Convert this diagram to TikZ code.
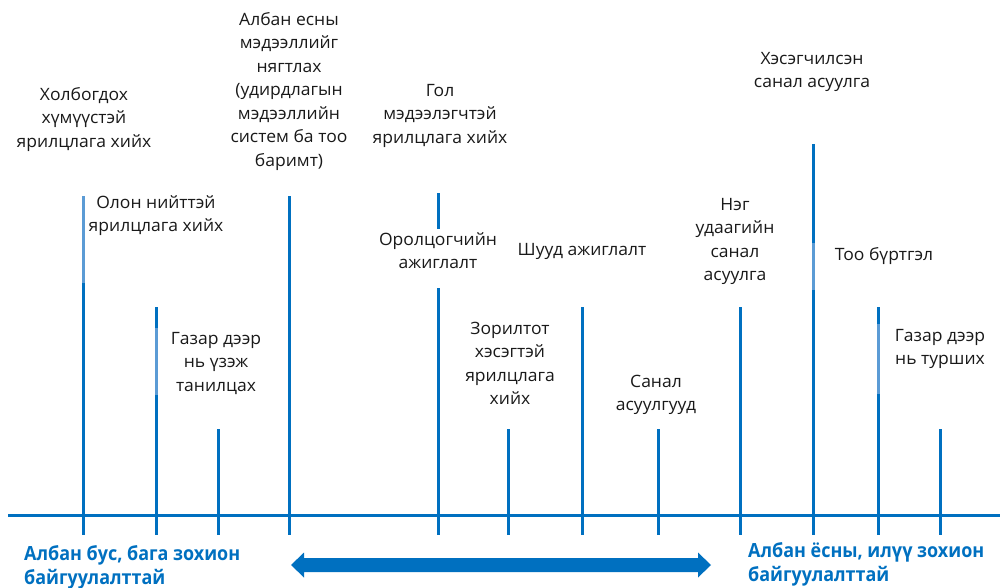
\documentclass[tikz,border=0pt]{standalone}
\usepackage{fontspec}
\setmainfont{Open Sans}
\newfontfamily\lblfont[FakeStretch=1.03]{Open Sans}
\newfontfamily\sidefont[FakeStretch=0.92]{Open Sans}
\usetikzlibrary{calc}
\definecolor{mainblue}{RGB}{0,112,192}
\definecolor{lightblue}{RGB}{91,155,213}
\definecolor{txt}{RGB}{25,25,25}
\begin{document}
\begin{tikzpicture}[x=1pt,y=-1pt,
  tick/.style={draw=mainblue,line width=3pt},
  lite/.style={draw=lightblue,line width=3pt},
  lbl/.style={font=\lblfont\fontsize{17}{23.5}\selectfont,align=center,inner sep=0pt,anchor=north,text=txt},
  side/.style={font=\sidefont\bfseries\fontsize{19.5}{24.5}\selectfont,align=left,inner sep=0pt,anchor=north west,text=mainblue}]
\useasboundingbox (0,0) rectangle (1000,588);
% axis
\coordinate (axL) at (8,515);
\coordinate (axR) at (1000,515);
\draw[tick] (axL) -- (axR);
% ticks
\foreach \n/\x/\t in {1/83/196,2/156/307,3/218/429,4/289/196,6/508/429,7/582/307,8/658/429,9/740/307,10/813/144,11/878/307,12/940/429}{
  \coordinate (t\n) at (\x,\t);
  \coordinate (b\n) at (\x,535);
  \draw[tick] (t\n) -- (b\n);
}
\coordinate (t5a) at (438,193);
\coordinate (b5a) at (438,229);
\coordinate (t5) at (438,288);
\coordinate (b5) at (438,535);
\draw[tick] (t5a) -- (b5a);
\draw[tick] (t5) -- (b5);
% lighter segments
\draw[lite] (83,196) -- (83,283);
\draw[lite] (156,328) -- (156,395);
\draw[lite] (813,243) -- (813,290);
\draw[lite] (878,324) -- (878,394);
% labels
\node[lbl] (A) at (84,83.5) {\strut Холбогдох\\хүмүүстэй\\ярилцлага хийх};
\node[lbl] (B) at (156,191.5) {\strut Олон нийттэй\\ярилцлага хийх};
\node[lbl] (C) at (216,327.5) {\strut Газар дээр\\нь үзэж\\танилцах};
\node[lbl] (D) at (289,8.5) {\strut Албан есны\\мэдээллийг\\нягтлах\\(удирдлагын\\мэдээллийн\\систем ба тоо\\баримт)};
\node[lbl] (E) at (440,79.5) {\strut Гол\\мэдээлэгчтэй\\ярилцлага хийх};
\node[lbl] (F) at (438,228.5) {\strut Оролцогчийн\\ажиглалт};
\node[lbl] (G) at (582,238.5) {\strut Шууд ажиглалт};
\node[lbl] (H) at (510,317.5) {\strut Зорилтот\\хэсэгтэй\\ярилцлага\\хийх};
\node[lbl] (I) at (656,370.5) {\strut Санал\\асуулгууд};
\node[lbl] (J) at (735,193.5) {\strut Нэг\\удаагийн\\санал\\асуулга};
\node[lbl] (K) at (812,47.5) {\strut Хэсэгчилсэн\\санал асуулга};
\node[lbl] (L) at (884,243.5) {\strut Тоо бүртгэл};
\node[lbl] (M) at (940,324.5) {\strut Газар дээр\\нь турших};
% side labels
\node[side] (SL) at (24,543) {\strut Албан бус, бага зохион\\байгуулалттай};
\node[side] (SR) at (748,540) {\strut Албан ёсны, илүү зохион\\байгуулалттай};
% double arrow
\coordinate (arL) at (291,565);
\coordinate (arR) at (711,565);
\fill[mainblue] (arL) -- ++(13,-12.5) -- ++(0,5.5) -- ($(arR)+(-13,-7)$) -- ++(0,-5.5) -- (arR) -- ++(-13,12.5) -- ++(0,-5.5) -- ($(arL)+(13,7)$) -- ++(0,5.5) -- cycle;
\end{tikzpicture}
\end{document}
